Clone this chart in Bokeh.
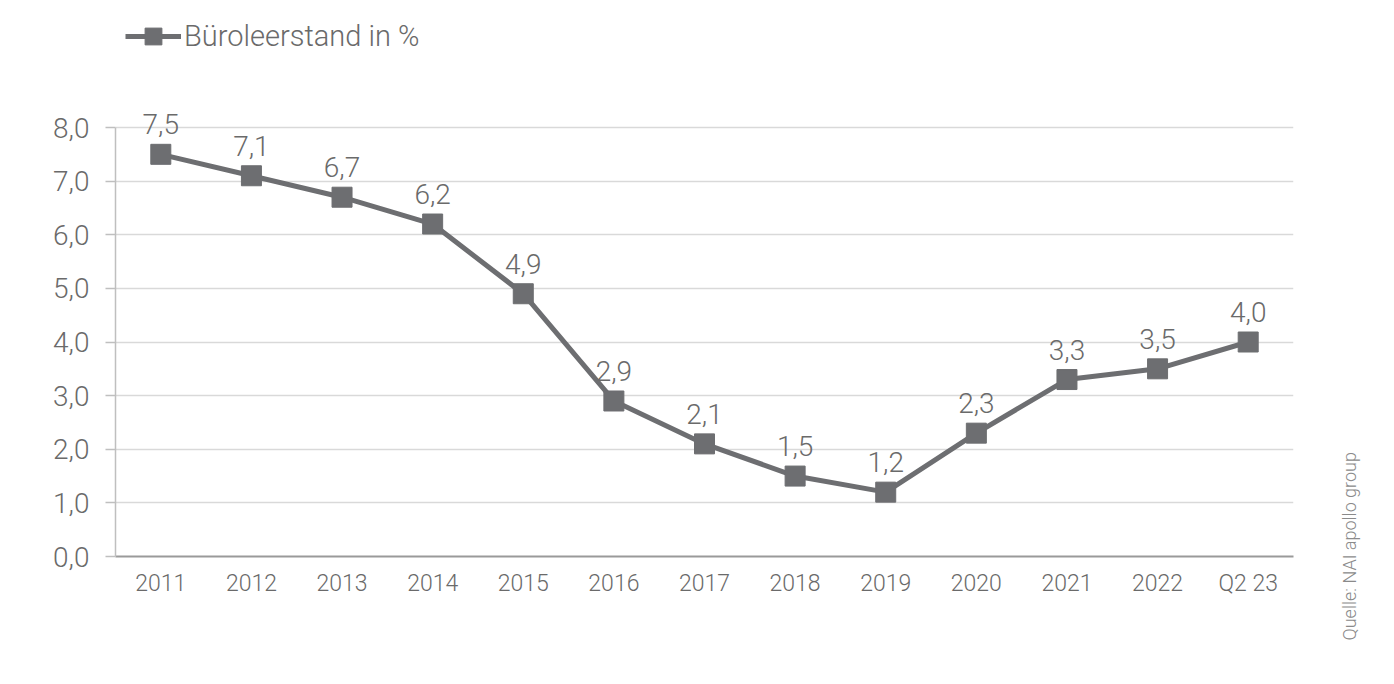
from bokeh.plotting import figure
from bokeh.models import Range1d, Legend, LegendItem, Label, ColumnDataSource, FixedTicker, CustomJSTickFormatter
from bokeh.core.properties import value
from bokeh.embed import file_html
from bokeh.resources import INLINE

categories = ["2011", "2012", "2013", "2014", "2015", "2016", "2017", "2018", "2019", "2020", "2021", "2022", "Q2 23"]
vacancy = [7.5, 7.1, 6.7, 6.2, 4.9, 2.9, 2.1, 1.5, 1.2, 2.3, 3.3, 3.5, 4.0]
y_ticks = [0, 1, 2, 3, 4, 5, 6, 7, 8]
series_name = "Büroleerstand in %"
source_note = "Quelle: NAI apollo group"

FONT = "Roboto Light, Roboto"
TXT = "#6a6a6a"
LINE = "#6d6e71"

# layout (pixels)
W, H = 1378, 668
LEFT, RIGHT_EDGE, AXIS_Y, TOP8 = 115, 1293, 556, 127
px_per_unit = (AXIS_Y - TOP8) / 8.0
y_top = AXIS_Y / px_per_unit  # frame reaches to top of canvas

src = ColumnDataSource(dict(
    x=categories,
    y=vacancy,
    lbl=[f"{v:.1f}".replace(".", ",") for v in vacancy],
))

p = figure(width=W, height=H, x_range=categories, y_range=Range1d(0, y_top),
           output_backend="svg", toolbar_location=None,
           min_border_left=LEFT, min_border_right=W - RIGHT_EDGE, min_border_top=0,
           min_border_bottom=H - AXIS_Y)
p.outline_line_color = None
p.background_fill_color = "white"

p.xgrid.grid_line_color = None
p.ygrid.grid_line_color = "#d9d9d9"
p.ygrid.grid_line_width = 1.5
p.ygrid.ticker = FixedTicker(ticks=y_ticks)

p.yaxis.ticker = FixedTicker(ticks=y_ticks)
p.yaxis.bounds = (0, 8)
p.yaxis.formatter = CustomJSTickFormatter(code="return tick.toFixed(1).replace('.', ',');")
p.yaxis.axis_line_color = "#bfbfbf"
p.yaxis.axis_line_width = 1.5
p.yaxis.major_tick_line_color = "#bfbfbf"
p.yaxis.major_tick_line_width = 1.5
p.yaxis.major_tick_in = 0
p.yaxis.major_tick_out = 10
p.yaxis.minor_tick_line_color = None
p.yaxis.major_label_text_font = FONT
p.yaxis.major_label_text_font_size = "28px"
p.yaxis.major_label_text_color = TXT
p.yaxis.major_label_standoff = 16

p.xaxis.axis_line_color = "#9a9a9a"
p.xaxis.axis_line_width = 2
p.xaxis.major_tick_line_color = None
p.xaxis.minor_tick_line_color = None
p.xaxis.major_label_text_font = FONT
p.xaxis.major_label_text_font_size = "23px"
p.xaxis.major_label_text_color = TXT
p.xaxis.major_label_standoff = 7

ln = p.line("x", "y", source=src, line_color=LINE, line_width=5)
sq = p.scatter("x", "y", source=src, marker="square", size=20, fill_color=LINE, line_color=LINE)

p.text("x", "y", text="lbl", source=src, text_align="center", text_baseline="middle",
       y_offset=-30, text_font=value(FONT), text_font_size="28px", text_color=TXT)

legend = Legend(items=[LegendItem(label=series_name, renderers=[ln, sq])],
                location=(10, AXIS_Y - 57), orientation="horizontal",
                label_text_font=FONT, label_text_font_size="29px", label_text_color=TXT,
                label_text_baseline="middle",
                border_line_color=None, background_fill_alpha=0,
                glyph_width=56, glyph_height=42, label_height=42, label_standoff=3,
                padding=0, margin=0)
p.add_layout(legend, "center")

note = Label(x=56, y=-84, x_units="screen", y_units="screen", text=source_note,
             angle=1.5708, text_font=FONT, text_font_size="18px", text_color="#8a8a8a",
             text_baseline="middle", text_align="left")
p.add_layout(note, "right")

open("out.html", "w").write(file_html(p, INLINE))
